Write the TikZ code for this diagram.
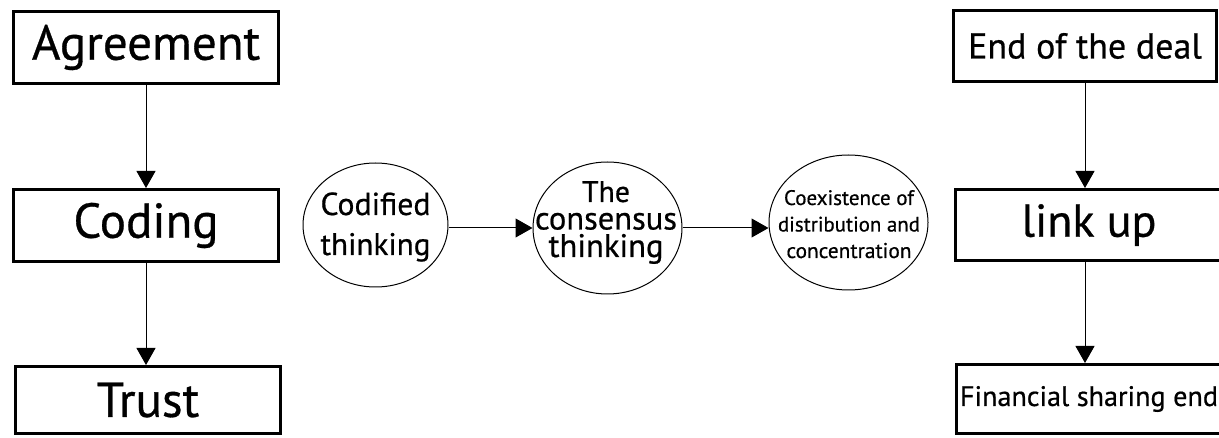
\documentclass[tikz,border=0pt]{standalone}
\usepackage{fontspec}
\setmainfont{PT Sans}[FakeBold=0.6]
\usetikzlibrary{arrows.meta,shapes.geometric}
\tikzset{
  bigbox/.style={draw=black, line width=3pt, rectangle, inner sep=0pt, align=center},
  oval/.style={draw=black, line width=1pt, ellipse, inner sep=0pt},
  ovaltext/.style={inner sep=0pt, align=center, anchor=base},
  arr/.style={line width=1pt, -{Triangle[length=17pt,width=19pt]}},
}
\newcommand{\fs}[2]{\fontsize{#1}{#2}\selectfont}
\newcommand{\fitw}[2]{\resizebox{#1pt}{!}{#2}}
\begin{document}
\begin{tikzpicture}[x=1pt,y=-1pt]
\useasboundingbox (0,0) rectangle (1219,438);
\fill[white] (0,0) rectangle (1219,438);
% left column
\node[bigbox, minimum width=265pt, minimum height=72pt, font=\fs{49}{54}] (agr) at (146,47.5) {Agreement};
\node[bigbox, minimum width=265pt, minimum height=72pt, font=\fs{49}{54}] (cod) at (146,225.5) {Coding};
\node[bigbox, minimum width=265pt, minimum height=67pt, font=\fs{49}{54}] (tru) at (148,400) {Trust};
\draw[arr] (agr.south) -- (agr.south |- cod.north);
\draw[arr] (cod.south) -- (cod.south |- tru.north);
% right column
\node[bigbox, minimum width=263pt, minimum height=71pt, font=\fs{36}{40}] (end) at (1085,46) {End of the deal};
\node[bigbox, minimum width=267pt, minimum height=71pt, font=\fs{46}{50}] (lnk) at (1089,225) {link up};
\node[bigbox, minimum width=265pt, minimum height=69pt, font=\fs{32}{36}] (fin) at (1089,399) {\fitw{258}{Financial sharing end}};
\draw[arr] (end.south) -- (end.south |- lnk.north);
\draw[arr] (lnk.south -| end.south) -- (end.south |- fin.north);
% middle ellipses
\node[oval, minimum width=145pt, minimum height=124pt] (cft) at (375.5,225) {};
\node[oval, minimum width=149pt, minimum height=132pt] (cst) at (607.5,228) {};
\node[oval, minimum width=159pt, minimum height=135pt] (coe) at (848.5,222.5) {};
\node[ovaltext, font=\fs{30}{40}] (cftt) at (375.5,255) {\fitw{110}{Codified}\\\fitw{110}{thinking}};
\node[ovaltext, font=\fs{30}{27.5}] (cstt) at (606,257) {\fitw{48}{The}\\\fitw{142}{consensus}\\\fitw{115}{thinking}};
\node[ovaltext, font=\fs{24}{26.5}] (coet) at (849,258) {\fitw{130}{Coexistence of}\\\fitw{142}{distribution and}\\\fitw{125}{concentration}};
\draw[arr] (cft.east |- cst.center) -- (cst.west);
\draw[arr] (cst.east) -- (coe.west |- cst.center);
\end{tikzpicture}
\end{document}
